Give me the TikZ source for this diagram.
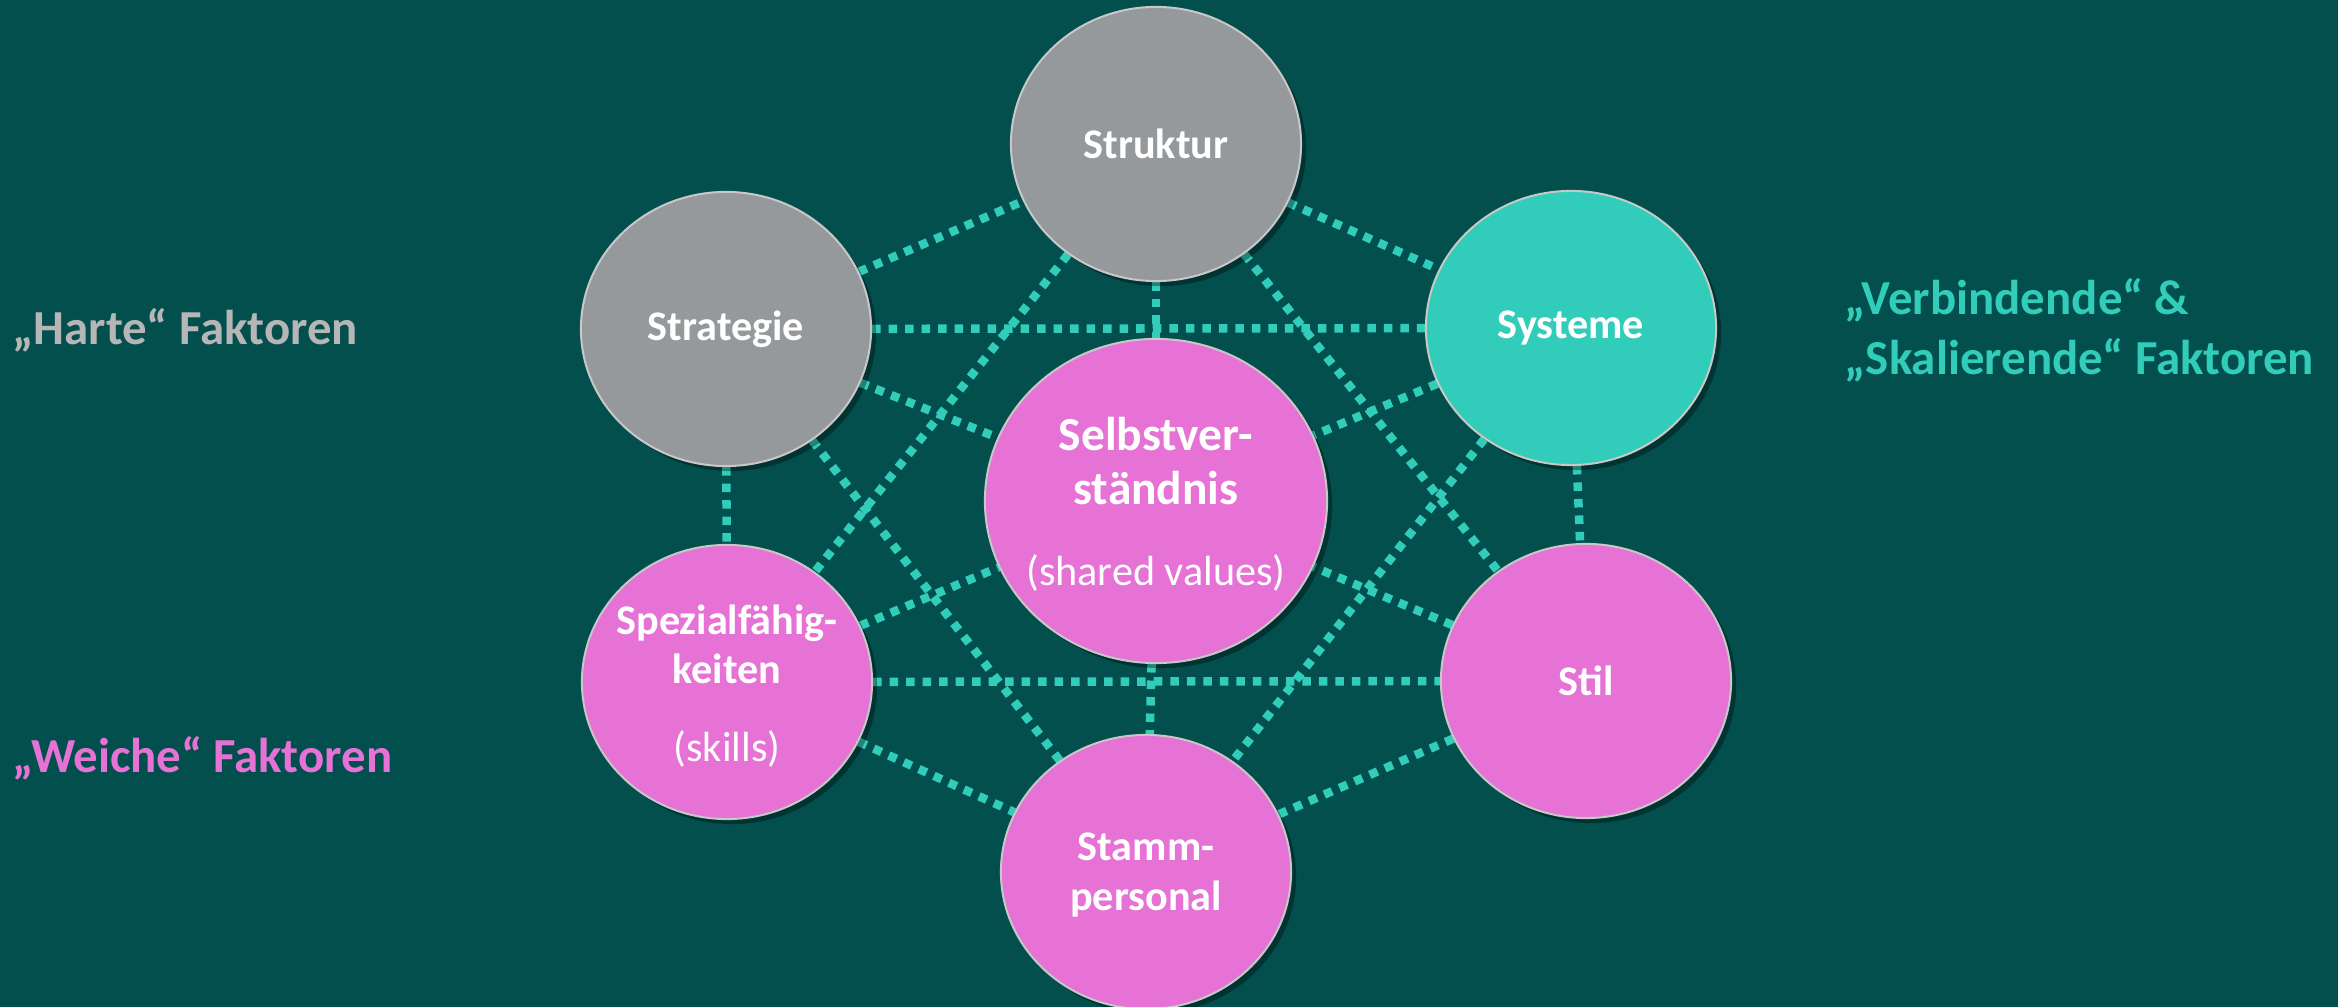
\documentclass[tikz,border=0pt]{standalone}
\usepackage{fontspec}
\setmainfont{Carlito}
\usepackage{tikz}
\usetikzlibrary{shapes.geometric, shadows}

\definecolor{bgteal}{RGB}{2,79,77}
\definecolor{hardgray}{RGB}{150,153,156}
\definecolor{linkteal}{RGB}{50,205,186}
\definecolor{softpink}{RGB}{229,114,212}
\definecolor{rimgray}{RGB}{200,200,200}
\definecolor{hardtext}{RGB}{182,182,182}

\pgfdeclarelayer{bg}
\pgfdeclarelayer{links}
\pgfsetlayers{bg,links,main}

\begin{document}
\begin{tikzpicture}[x = 0.01cm, y = -0.01cm,
		factor/.style = {ellipse, draw = rimgray, line width = .2mm, minimum width = 2.9cm, minimum height = 2.74cm, inner sep = 0pt,
			drop shadow = {shadow xshift = .05cm, shadow yshift = -.05cm, opacity = .35, fill = black}},
		ftext/.style = {text = white, font = \bfseries\fontsize{12}{14}\selectfont, align = center, inner sep = 0pt},
		link/.style = {draw = linkteal, line width = .85mm, dash pattern = on .85mm off .8mm},
		side/.style = {font = \bfseries\fontsize{13.9}{16}\selectfont, anchor = base west, inner sep = 0pt}]
		\useasboundingbox (0, 0) rectangle (2338, 1007);
		\begin{pgfonlayer}{bg}
			\fill[bgteal] (0, 0) rectangle (2338, 1007);
		\end{pgfonlayer}

		\node[factor, fill = hardgray] (str) at (1156, 144) {};
		\node[factor, fill = hardgray] (strat) at (726, 329) {};
		\node[factor, fill = linkteal] (sys) at (1571, 328) {};
		\node[factor, fill = softpink, minimum width = 3.42cm, minimum height = 3.24cm] (selbst) at (1156, 501) {};
		\node[factor, fill = softpink] (spez) at (727, 682) {};
		\node[factor, fill = softpink] (stil) at (1586, 681) {};
		\node[factor, fill = softpink] (stamm) at (1146, 872) {};

		\begin{pgfonlayer}{links}
			\foreach \a/\b in {strat/str, str/sys, strat/sys, str/selbst, str/spez, str/stil, strat/selbst, sys/selbst,
				strat/spez, sys/stil, strat/stamm, sys/stamm, spez/selbst, stil/selbst, spez/stil, selbst/stamm, spez/stamm, stil/stamm}
				\draw[link] (\a) -- (\b);
		\end{pgfonlayer}

		\node[ftext] (str-t) at (str) {Struktur};
		\node[ftext] (strat-t) at (strat) {Strategie};
		\node[ftext] (sys-t) at (sys) {Systeme};
		\node[ftext] (stil-t) at (stil) {Stil};
		\node[ftext, font = \bfseries\fontsize{13.5}{15.5}\selectfont] (selbst-t) at (1156, 504) {Selbstver-\\ständnis\\[.26cm]{\mdseries\fontsize{12}{14}\selectfont (shared values)}};
		\node[ftext] (spez-t) at (727, 686) {Spezialfähig-\\keiten\\[.29cm]{\mdseries (skills)}};
		\node[ftext] (stamm-t) at (1146, 875) {Stamm-\\personal};

		\node[side, text = hardtext] (harte) at (12, 345) {„Harte“ Faktoren};
		\node[side, text = softpink] (weiche) at (12, 773) {„Weiche“ Faktoren};
		\node[side, text = linkteal] (verbind) at (1844, 315) {„Verbindende“ \&};
		\node[side, text = linkteal] (skalier) at (1844, 375) {„Skalierende“ Faktoren};
	\end{tikzpicture}
\end{document}
